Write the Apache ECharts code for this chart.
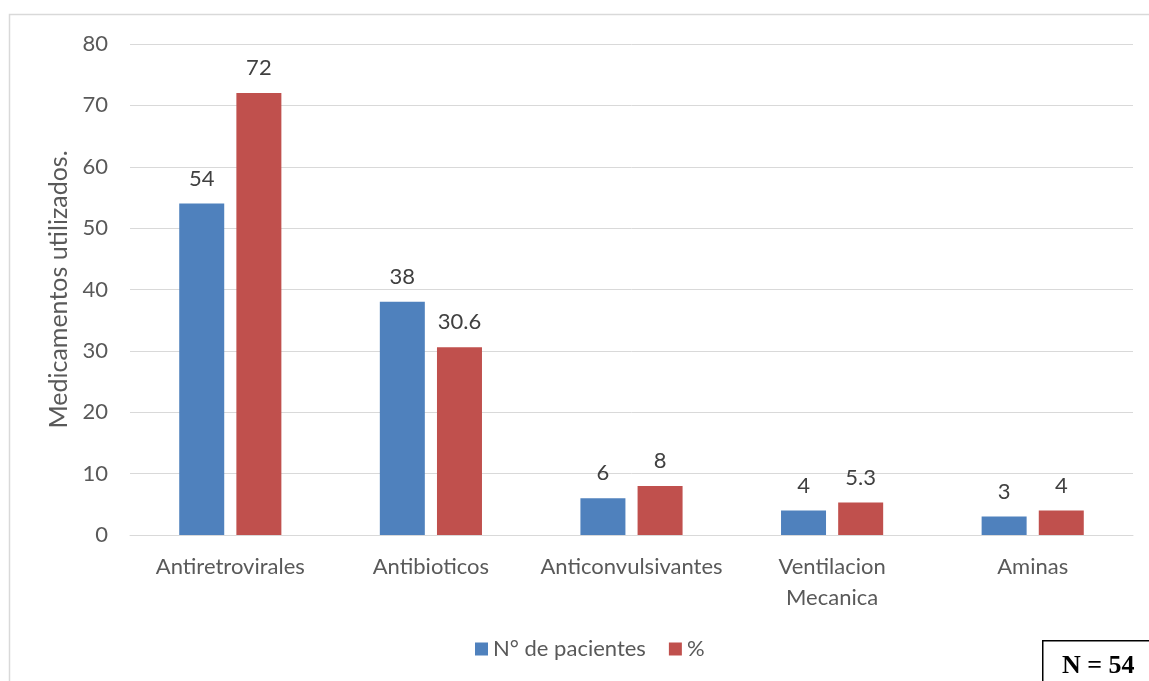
<!DOCTYPE html>
<html>
<head>
<meta charset="utf-8">
<script src="https://cdn.jsdelivr.net/npm/echarts@6/dist/echarts.min.js"></script>
<style>
  html, body { margin: 0; padding: 0; background: #ffffff; }
  #chart { width: 1149px; height: 681px; }
</style>
</head>
<body>
<div id="chart"></div>
<script>
// Treatments used, by category
const categories = ['Antiretrovirales', 'Antibioticos', 'Anticonvulsivantes', 'Ventilacion\nMecanica', 'Aminas'];
const pacientes = [54, 38, 6, 4, 3];
const porcentaje = [72, 30.6, 8, 5.3, 4];
const yTicks = { min: 0, max: 80, interval: 10 };
const seriesNames = ['N° de pacientes', '%'];

const FONT = 'Lato, "Open Sans", sans-serif';
const chart = echarts.init(document.getElementById('chart'));

const labelStyle = {
  show: true,
  position: 'top',
  distance: 14,
  color: '#404040',
  fontFamily: FONT,
  fontSize: 22
};

chart.setOption({
  animation: false,
  backgroundColor: '#ffffff',
  grid: { left: 130, right: 16, top: 44, bottom: 146 },
  legend: {
    data: seriesNames,
    bottom: 16,
    left: 470,
    itemWidth: 13,
    itemHeight: 13,
    itemGap: 23,
    icon: 'rect',
    textStyle: { color: '#595959', fontFamily: FONT, fontSize: 22 }
  },
  xAxis: {
    type: 'category',
    data: categories,
    axisLine: { lineStyle: { color: '#d9d9d9', width: 1 } },
    axisTick: { show: false },
    axisLabel: { color: '#595959', fontFamily: FONT, fontSize: 22, margin: 16, lineHeight: 31, interval: 0 }
  },
  yAxis: {
    type: 'value',
    min: yTicks.min,
    max: yTicks.max,
    interval: yTicks.interval,
    name: 'Medicamentos utilizados.',
    nameLocation: 'middle',
    nameGap: 56,
    nameTextStyle: { color: '#595959', fontFamily: FONT, fontSize: 25 },
    axisLine: { show: false },
    axisTick: { show: false },
    axisLabel: { color: '#595959', fontFamily: FONT, fontSize: 22, margin: 22 },
    splitLine: { lineStyle: { color: '#d9d9d9', width: 1 } }
  },
  series: [
    {
      name: seriesNames[0],
      type: 'bar',
      data: pacientes,
      barWidth: 45,
      barGap: '27%',
      itemStyle: { color: '#4f81bd' },
      label: labelStyle
    },
    {
      name: seriesNames[1],
      type: 'bar',
      data: porcentaje,
      barWidth: 45,
      itemStyle: { color: '#c0504d' },
      label: labelStyle
    }
  ],
  graphic: [
    {
      type: 'rect',
      silent: true,
      z: -1,
      shape: { x: 9.5, y: 14.5, width: 1200, height: 720 },
      style: { fill: null, stroke: '#d9d9d9', lineWidth: 1.5 }
    },
    {
      type: 'group',
      left: 1042,
      top: 640,
      children: [
        {
          type: 'rect',
          shape: { x: 0.5, y: 0.5, width: 140, height: 80 },
          style: { fill: '#ffffff', stroke: '#000000', lineWidth: 1.5 }
        },
        {
          type: 'text',
          x: 56,
          y: 26,
          style: {
            text: 'N = 54',
            fill: '#000000',
            font: 'bold 26px "Liberation Serif", "Times New Roman", serif',
            textAlign: 'center',
            textVerticalAlign: 'middle'
          }
        }
      ]
    }
  ]
});
</script>
</body>
</html>
